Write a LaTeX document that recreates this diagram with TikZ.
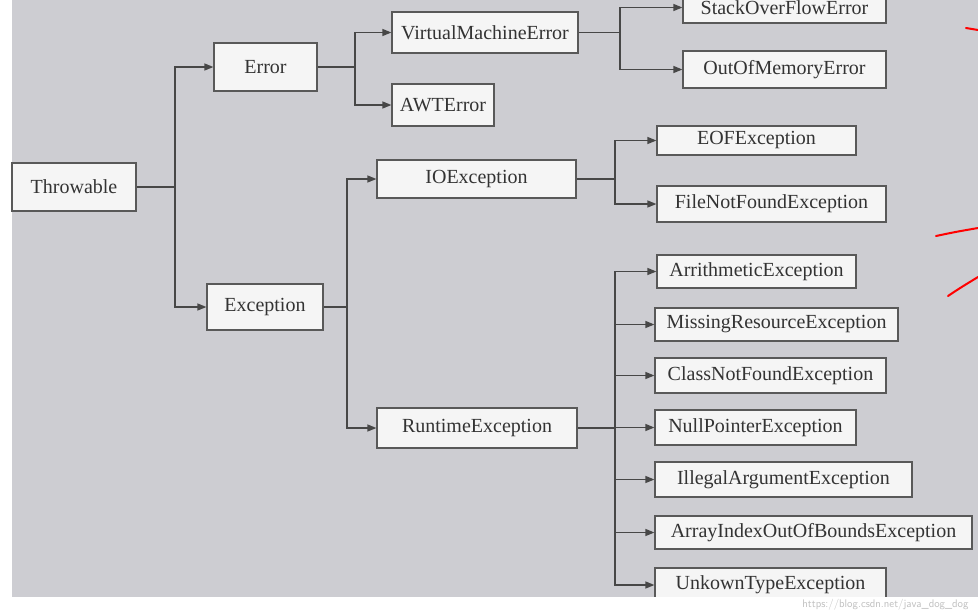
\documentclass[tikz,border=0pt]{standalone}
\usepackage{fontspec}
\setmainfont{Liberation Serif}
\usetikzlibrary{arrows.meta}
\begin{document}
\begin{tikzpicture}[x=1pt,y=-1pt,
  box/.style={draw=black!65,line width=1.2pt,fill=white!96!black,inner sep=0pt,font=\fontsize{20}{21}\selectfont,text=black!80},
  arr/.style={draw=black!72,line width=1.3pt,-{Triangle[length=9pt,width=7pt]}},
  ln/.style={draw=black!72,line width=1.3pt}]
\useasboundingbox (0,0) rectangle (978,611);
\clip (0,0) rectangle (978,611);
\fill[white] (0,0) rectangle (978,611);
\fill[black!18!white!98!blue] (12,0) rectangle (978,597);
\newcommand\bx[6]{\node[box,minimum width=#4-#2,minimum height=#5-#3] (#1) at ({(#2+#4)/2},{(#3+#5)/2}) {#6};}
\bx{thr}{12}{163}{136}{211}{Throwable}
\bx{err}{214}{43}{317}{91}{Error}
\bx{exc}{207}{284}{323}{330}{Exception}
\bx{vme}{392}{12}{578}{53}{VirtualMachineError}
\bx{awt}{392}{84}{494}{126}{AWTError}
\bx{io}{377}{160}{576}{198}{IOException}
\bx{rt}{377}{408}{577}{448}{RuntimeException}
\bx{so}{683}{-8}{886}{23}{StackOverFlowError}
\bx{oom}{683}{51}{886}{88}{OutOfMemoryError}
\bx{eof}{657}{126}{856}{155}{EOFException}
\bx{fnf}{657}{186}{886}{222}{FileNotFoundException}
\bx{ari}{657}{255}{856}{288}{ArrithmeticException}
\bx{mis}{655}{308}{898}{341}{MissingResourceException}
\bx{cnf}{655}{358}{886}{393}{ClassNotFoundException}
\bx{npe}{655}{410}{856}{445}{NullPointerException}
\bx{ill}{655}{462}{912}{497}{IllegalArgumentException}
\bx{aio}{655}{516}{972}{549}{ArrayIndexOutOfBoundsException}
\bx{unk}{655}{568}{886}{602}{UnkownTypeException}
% connectors
\coordinate (b1) at (175,187);
\draw[ln] (thr.east) -- (b1);
\draw[arr] (b1) |- (err.west);
\draw[arr] (b1) |- (exc.west);
\coordinate (b2) at (355,67);
\draw[ln] (err.east) -- (b2);
\draw[arr] (b2) |- (vme.west);
\draw[arr] (b2) |- (awt.west);
\coordinate (b3) at (347,307);
\draw[ln] (exc.east) -- (b3);
\draw[arr] (b3) |- (io.west);
\draw[arr] (b3) |- (rt.west);
\coordinate (b4) at (620,32.5);
\draw[ln] (vme.east) -- (b4);
\draw[arr] (b4) |- (so.west);
\draw[arr] (b4) |- (oom.west);
\coordinate (b5) at (615,179);
\draw[ln] (io.east) -- (b5);
\draw[arr] (b5) |- (eof.west);
\draw[arr] (b5) |- (fnf.west);
\coordinate (b6) at (615,428);
\draw[ln] (rt.east) -- (b6);
\foreach \n in {ari,mis,cnf,npe,ill,aio,unk} \draw[arr] (b6) |- (\n.west);
% white strip
\fill[white] (0,597) rectangle (978,611);
\node[font=\sffamily\fontsize{11}{12}\selectfont,text=black!25,anchor=east] (wm) at (972,604.5) {https://blog.csdn.net/java\_dog\_dog};
% red marks
\draw[red,line width=2pt,line cap=round] (966,28) -- (978,30);
\draw[red,line width=2pt,line cap=round] (936,236) .. controls (955,232) .. (978,228);
\draw[red,line width=2pt,line cap=round] (948,296) .. controls (960,288) .. (978,277);
\end{tikzpicture}
\end{document}
